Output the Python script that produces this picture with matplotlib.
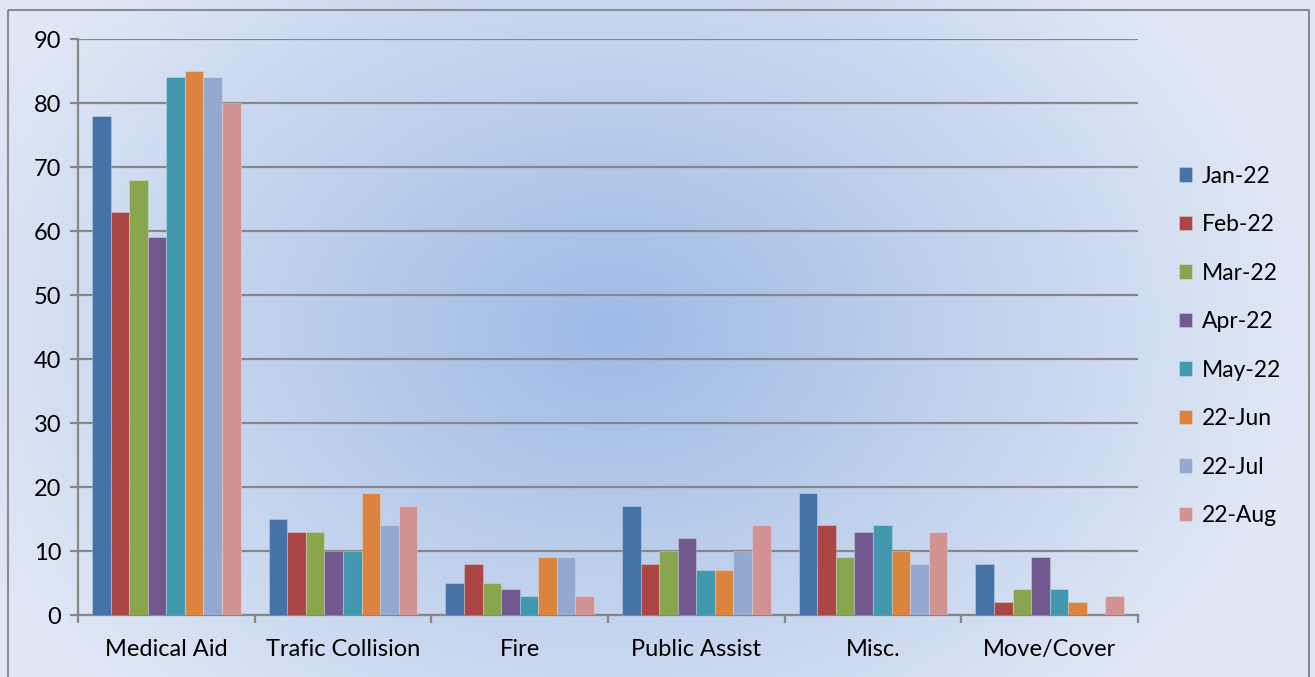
import numpy as np
import matplotlib
matplotlib.use("Agg")
import matplotlib.pyplot as plt
from matplotlib.patches import Rectangle

categories = ["Medical Aid", "Trafic Collision", "Fire", "Public Assist", "Misc.", "Move/Cover"]
series_names = ["Jan-22", "Feb-22", "Mar-22", "Apr-22", "May-22", "22-Jun", "22-Jul", "22-Aug"]
jan = [78, 15, 5, 17, 19, 8]
feb = [63, 13, 8, 8, 14, 2]
mar = [68, 13, 5, 10, 9, 4]
apr = [59, 10, 4, 12, 13, 9]
may = [84, 10, 3, 7, 14, 4]
jun = [85, 19, 9, 7, 10, 2]
jul = [84, 14, 9, 10, 8, 0]
aug = [80, 17, 3, 14, 13, 3]
series = [jan, feb, mar, apr, may, jun, jul, aug]
colors = ["#4572a7", "#aa4643", "#89a54e", "#71588f", "#4198af", "#db843d", "#93a9cf", "#d19392"]
yticks = [0, 10, 20, 30, 40, 50, 60, 70, 80, 90]

plt.rcParams['font.family'] = ['Lato', 'DejaVu Sans']

W, H = 1315, 677
fig = plt.figure(figsize=(W / 100, H / 100), dpi=100)

# radial gradient background
bg = fig.add_axes([0, 0, 1, 1], zorder=0)
yy, xx = np.mgrid[0:H, 0:W]
cx, cy = 610, 330
d = np.sqrt(((xx - cx) / 700.0) ** 2 + ((yy - cy) / 520.0) ** 2)
d = np.clip(d, 0, 1)
c0 = np.array([0.62, 0.73, 0.90])
c1 = np.array([0.88, 0.91, 0.96])
img = c0[None, None, :] * (1 - d[..., None]) + c1[None, None, :] * d[..., None]
bg.imshow(img, aspect='auto', extent=[0, W, H, 0])
bg.add_patch(Rectangle((8.5, 9.5), W - 14, H + 10, fill=False, edgecolor="#8c8c8c", linewidth=1.5))
bg.set_xlim(0, W)
bg.set_ylim(H, 0)
bg.axis('off')

ax = fig.add_axes([78 / W, 1 - 615 / H, (1138 - 78) / W, (615 - 39) / H], zorder=1)
ax.patch.set_alpha(0)

n = len(series)
group_w = 0.84
bw = group_w / n
x = np.arange(len(categories))
handles = []
for i, (vals, col, name) in enumerate(zip(series, colors, series_names)):
    offs = -group_w / 2 + bw * (i + 0.5)
    b = ax.bar(x + offs, vals, width=bw, color=col, edgecolor=(1, 1, 1, 0.25), linewidth=0.8, label=name, zorder=3)
    handles.append(b)

ax.set_xlim(-0.5, len(categories) - 0.5)
ax.set_ylim(0, 90)
ax.set_yticks(yticks)
ax.set_yticklabels([str(v) for v in yticks], fontsize=17)
for v in yticks:
    ax.axhline(v, color="#878787", linewidth=1.6, zorder=2)

ax.set_xticks(x)
ax.set_xticklabels(categories, fontsize=17)
ax.tick_params(axis='x', length=0, pad=17)
ax.set_xticks(np.arange(len(categories) + 1) - 0.5, minor=True)
ax.tick_params(axis='x', which='minor', length=6, width=1.6, color="#878787")
ax.tick_params(axis='y', length=6, width=1.6, color="#878787", pad=6)

for s in ['top', 'right']:
    ax.spines[s].set_visible(False)
ax.spines['left'].set_color("#878787")
ax.spines['left'].set_linewidth(1.6)
ax.spines['bottom'].set_color("#878787")
ax.spines['bottom'].set_linewidth(1.6)

leg = fig.legend(handles=handles, labels=series_names, loc='center left',
                 bbox_to_anchor=(1158 / W, 1 - 346 / H), frameon=False, fontsize=16.5,
                 handlelength=0.6, handleheight=0.6, handletextpad=0.4, labelspacing=1.2)

fig.savefig("out.png", dpi=100)
